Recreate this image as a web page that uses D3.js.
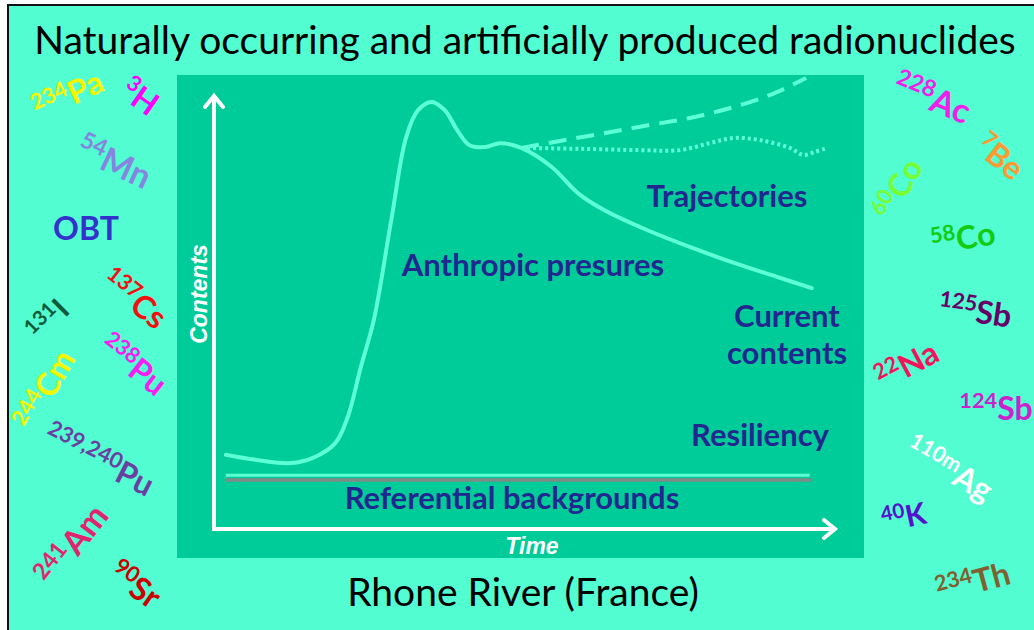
<!DOCTYPE html>
<html lang="en">
<head>
<meta charset="UTF-8">
<script src="https://d3js.org/d3.v7.min.js"></script>
<title>Rhone River radionuclides</title>
<style>
  body { margin: 0; background: #fff; }
  svg { display: block; }
</style>
</head>
<body>
<div id="chart"></div>
<script>
// concept curve (time vs contents, arbitrary units 0-100)
const timeMain = [1.9, 6.9, 12.4, 15.9, 19.5, 21.5, 23.6, 25.7, 28.5, 30.9, 32.8, 35.0, 37.1, 39.1, 41.0, 43.6, 46.0, 49.4, 54.3, 58.5, 62.7, 69.6, 76.5, 83.6, 90.5, 96.1];
const contentsMain = [17.1, 15.9, 15.2, 16.4, 19.8, 25.8, 37.3, 48.2, 71.2, 90.3, 96.5, 98.4, 96.5, 91.9, 88.5, 88.0, 88.9, 87.8, 83.4, 77.4, 73.5, 68.9, 65.0, 61.3, 58.1, 55.5];
const timeDashed = [49.4, 55.6, 62.7, 70.1, 76.5, 83.0, 89.4, 95.2];
const contentsDashed = [87.8, 89.4, 91.2, 93.1, 94.7, 97.0, 100.0, 103.9];
const timeDotted = [49.4, 58.8, 68.5, 74.9, 79.7, 83.6, 87.8, 92.6, 94.7, 96.6, 98.2];
const contentsDotted = [87.8, 87.6, 87.3, 87.3, 88.9, 90.1, 89.6, 87.8, 86.2, 86.9, 87.6];
const backgroundTime = [1.9, 96.1];
const resiliencyLevel = 12.4;
const referenceLevel = 11.3;

const nuclideSymbols = ["Pa", "H", "Mn", "OBT", "Cs", "I", "Pu", "Cm", "Pu", "Am", "Sr",
  "Ac", "Be", "Co", "Co", "Sb", "Na", "Sb", "Ag", "K", "Th"];
const nuclideMasses = ["234", "3", "54", "", "137", "131", "238", "244", "239,240", "241", "90",
  "228", "7", "60", "58", "125", "22", "124", "110m", "40", "234"];

// where each nuclide label sits: centre, rotation, colour, symbol size
const nuclideLayout = [
  [68, 95, -25, "#f5f500", 32], [140, 97, 35, "#ff00ff", 32], [114, 162, 25, "#8585e0", 34],
  [86, 228, 0, "#3333cc", 32], [134, 299, 38, "#f21010", 32], [48, 320, -45, "#0f5a3a", 30],
  [133, 365, 38, "#f81cf0", 32], [45, 390, -60, "#f5f500", 32], [99, 460, 27, "#6b3fa0", 32],
  [72, 545, -52, "#e0256e", 34], [135, 585, 35, "#cc0000", 32],
  [932, 98, 22, "#f020e8", 34], [1000, 157, 38, "#ff9933", 32], [898, 189, -60, "#77ff33", 32],
  [963, 238, -10, "#11cc11", 32], [975, 311, 8, "#660066", 32], [907, 365, -28, "#f0145a", 32],
  [996, 408, 0, "#cc22cc", 32], [949, 469, 30, "#ffffff", 32], [904, 517, -12, "#5511cc", 30],
  [973, 582, -15, "#806030", 32]
];

const W = 1034, H = 630;
const navy = "#202890", curveColor = "#5dffd6";
const labelFont = "Lato, 'Open Sans', sans-serif";

const svg = d3.select("#chart").append("svg")
  .attr("width", W).attr("height", H);

// page frame
svg.append("rect").attr("x", 8).attr("y", 5).attr("width", W).attr("height", H)
  .attr("fill", "#52fdd1").attr("stroke", "#111").attr("stroke-width", 2);

// inner panel
svg.append("rect").attr("x", 177).attr("y", 75).attr("width", 687).attr("height", 483)
  .attr("fill", "#00cc99");

const x = d3.scaleLinear().domain([0, 100]).range([214, 836]);
const y = d3.scaleLinear().domain([0, 100]).range([529, 95]);

const line = d3.line().x(d => x(d[0])).y(d => y(d[1])).curve(d3.curveCatmullRom);

// axes with arrow heads
svg.append("line").attr("x1", x(0)).attr("x2", x(0)).attr("y1", y(0) + 2).attr("y2", y(100) + 2)
  .attr("stroke", "#fff").attr("stroke-width", 4);
svg.append("line").attr("x1", x(0) - 2).attr("x2", x(100) - 2).attr("y1", y(0)).attr("y2", y(0))
  .attr("stroke", "#fff").attr("stroke-width", 4);
svg.append("path")
  .attr("d", `M${x(0) - 9},${y(100) + 12} L${x(0)},${y(100) + 1} L${x(0) + 9},${y(100) + 12}`)
  .attr("fill", "none").attr("stroke", "#fff").attr("stroke-width", 4).attr("stroke-linecap", "round");
svg.append("path")
  .attr("d", `M${x(100) - 12},${y(0) - 9} L${x(100) - 1},${y(0)} L${x(100) - 12},${y(0) + 9}`)
  .attr("fill", "none").attr("stroke", "#fff").attr("stroke-width", 4).attr("stroke-linecap", "round");

svg.append("text").attr("x", 532).attr("y", 554).attr("text-anchor", "middle")
  .attr("font-family", "'Liberation Sans', Arial, sans-serif").attr("font-weight", "bold")
  .attr("font-style", "italic").attr("font-size", 23).attr("fill", "#fff").text("Time");
svg.append("text").attr("transform", "translate(207,294) rotate(-90)").attr("text-anchor", "middle")
  .attr("font-family", "'Liberation Sans', Arial, sans-serif").attr("font-weight", "bold")
  .attr("font-style", "italic").attr("font-size", 23).attr("fill", "#fff").text("Contents");

// background levels
svg.append("line").attr("x1", x(backgroundTime[0])).attr("x2", x(backgroundTime[1]))
  .attr("y1", y(referenceLevel)).attr("y2", y(referenceLevel))
  .attr("stroke", "#7d8c86").attr("stroke-width", 3.5);
svg.append("line").attr("x1", x(backgroundTime[0])).attr("x2", x(backgroundTime[1]) - 2)
  .attr("y1", y(resiliencyLevel)).attr("y2", y(resiliencyLevel))
  .attr("stroke", curveColor).attr("stroke-width", 3);

// trajectories
svg.append("path").datum(d3.zip(timeDashed, contentsDashed)).attr("d", line)
  .attr("fill", "none").attr("stroke", curveColor).attr("stroke-width", 4)
  .attr("stroke-dasharray", "18 10");
svg.append("path").datum(d3.zip(timeDotted, contentsDotted)).attr("d", line)
  .attr("fill", "none").attr("stroke", curveColor).attr("stroke-width", 4)
  .attr("stroke-dasharray", "3 3");
svg.append("path").datum(d3.zip(timeMain, contentsMain)).attr("d", line)
  .attr("fill", "none").attr("stroke", curveColor).attr("stroke-width", 4)
  .attr("stroke-linecap", "round");

// panel annotations
const notes = [
  ["Trajectories", 727, 207], ["Anthropic presures", 533, 276], ["Current", 787, 327],
  ["contents", 787, 364], ["Resiliency", 760, 446], ["Referential backgrounds", 512, 509]
];
svg.selectAll(".note").data(notes).join("text").attr("class", "note")
  .attr("x", d => d[1]).attr("y", d => d[2]).attr("text-anchor", "middle")
  .attr("font-family", labelFont).attr("font-weight", "bold").attr("font-size", 31)
  .attr("fill", navy).text(d => d[0]);

// titles
svg.append("text").attr("x", 525).attr("y", 54).attr("text-anchor", "middle")
  .attr("font-family", labelFont).attr("font-size", 39).attr("fill", "#000")
  .text("Naturally occurring and artificially produced radionuclides");
svg.append("text").attr("x", 523).attr("y", 606).attr("text-anchor", "middle")
  .attr("font-family", labelFont).attr("font-size", 39).attr("fill", "#000")
  .text("Rhone River (France)");

// radionuclide labels
const nuclides = nuclideSymbols.map((s, i) => ({ symbol: s, mass: nuclideMasses[i], lay: nuclideLayout[i] }));
const ng = svg.selectAll(".nuclide").data(nuclides).join("g").attr("class", "nuclide")
  .attr("transform", d => `translate(${d.lay[0]},${d.lay[1]}) rotate(${d.lay[2]})`);
const nt = ng.append("text").attr("text-anchor", "middle").attr("y", d => d.lay[4] * 0.36)
  .attr("font-family", labelFont).attr("font-weight", "bold").attr("fill", d => d.lay[3]);
nt.append("tspan").attr("font-size", d => d.lay[4] * 0.68)
  .attr("dy", d => -d.lay[4] * 0.36).text(d => d.mass);
nt.append("tspan").attr("font-size", d => d.lay[4])
  .attr("dy", d => d.mass ? d.lay[4] * 0.36 : 0).text(d => d.symbol);
</script>
</body>
</html>
